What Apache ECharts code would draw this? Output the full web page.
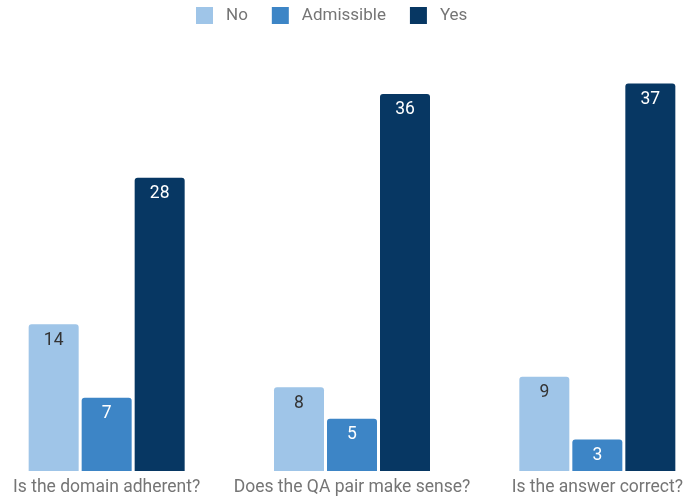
<!DOCTYPE html>
<html>
<head>
<meta charset="utf-8">
<script src="https://cdn.jsdelivr.net/npm/echarts@6/dist/echarts.min.js"></script>
<style>html,body{margin:0;padding:0;background:#fff;}#c{width:683px;height:500px;}</style>
</head>
<body>
<div id="c"></div>
<script>
const categories = ['Is the domain adherent?', 'Does the QA pair make sense?', 'Is the answer correct?'];
const seriesNames = ['No', 'Admissible', 'Yes'];
const noValues = [14, 8, 9];
const admissibleValues = [7, 5, 3];
const yesValues = [28, 36, 37];

const colors = ['#9fc5e8', '#3d85c6', '#073763'];
const labelColors = ['#333333', '#ffffff', '#ffffff'];
const allValues = [noValues, admissibleValues, yesValues];

const chart = echarts.init(document.getElementById('c'));
chart.setOption({
  animation: false,
  textStyle: { fontFamily: 'Roboto' },
  legend: {
    top: 2,
    left: 191,
    itemWidth: 17,
    itemHeight: 17,
    itemGap: 24,
    icon: 'rect',
    itemStyle: { borderRadius: 2 },
    textStyle: { color: '#757575', fontSize: 17, fontFamily: 'Roboto', padding: [0, 0, 0, 8] },
    data: seriesNames
  },
  grid: { left: -16, width: 736, top: 52, bottom: 29, containLabel: false, outerBoundsMode: 'none' },
  xAxis: {
    type: 'category',
    data: categories,
    axisLine: { show: false },
    axisTick: { show: false },
    axisLabel: { color: '#757575', fontSize: 17.5, margin: 8, interval: 0, fontFamily: 'Roboto' }
  },
  yAxis: { type: 'value', min: 0, max: 40, show: false, splitLine: { show: false } },
  series: seriesNames.map((name, i) => ({
    name: name,
    type: 'bar',
    data: allValues[i],
    barWidth: 50,
    barGap: '6%',
    itemStyle: { color: colors[i], borderRadius: [3, 3, 0, 0] },
    label: {
      show: true,
      position: 'insideTop',
      distance: 7,
      color: labelColors[i],
      fontSize: 17.5,
      fontFamily: 'Roboto'
    }
  }))
});
</script>
</body>
</html>
